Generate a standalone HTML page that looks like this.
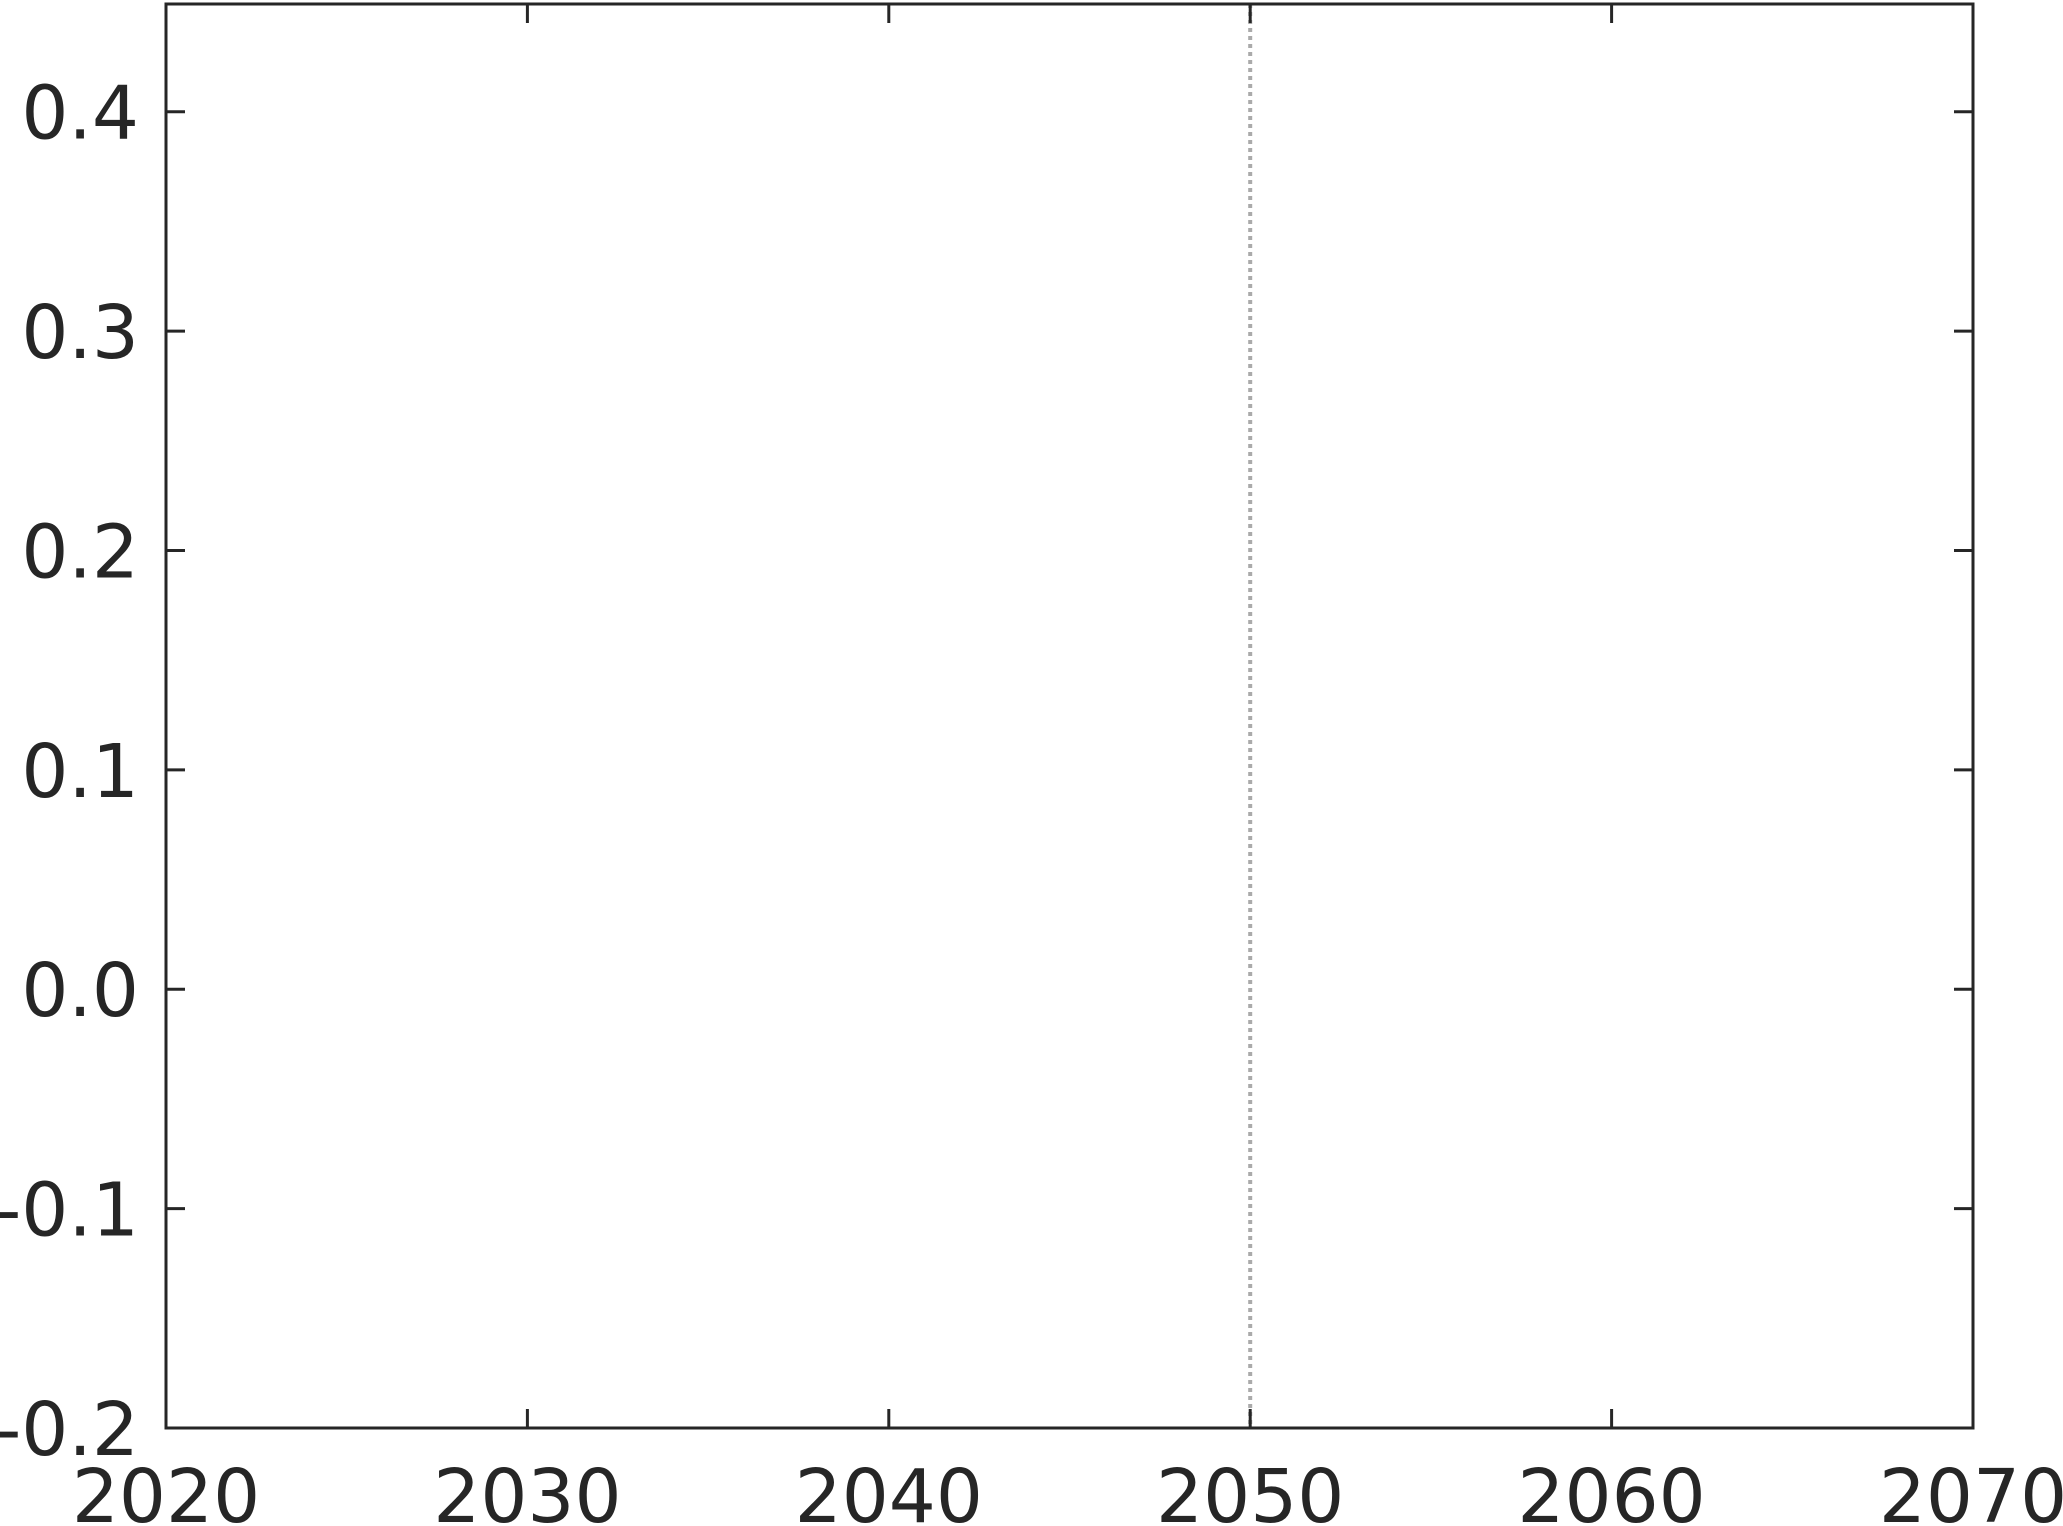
<!DOCTYPE html>
<html><head><meta charset="utf-8"><style>
html,body{margin:0;padding:0;background:#fff;}
svg{display:block;}
</style></head><body>
<svg id="chart" width="2063" height="1526" xmlns="http://www.w3.org/2000/svg"></svg>
<script>
const xTicks=[2020,2030,2040,2050,2060,2070];
const yTicks=[-0.2,-0.1,0.0,0.1,0.2,0.3,0.4];
const yTickLabels=["-0.2","-0.1","0.0","0.1","0.2","0.3","0.4"];
const markers=[2050];
const X0=166,X1=1973,Y0=1428,Y1=4;
const xMin=2020,xMax=2070,yMin=-0.2,yMax=0.4491;
function sx(v){return X0+(v-xMin)/(xMax-xMin)*(X1-X0);}
function sy(v){return Y0-(v-yMin)/(yMax-yMin)*(Y0-Y1);}
const svg=document.getElementById('chart');
const NS='http://www.w3.org/2000/svg';
function mk(t,a){const e=document.createElementNS(NS,t);for(const k in a)e.setAttribute(k,a[k]);svg.appendChild(e);return e;}
markers.forEach(m=>{
  const l=mk('line',{x1:sx(m),x2:sx(m),y1:Y1,y2:Y0,stroke:'#aaaaaa','stroke-width':4,'stroke-dasharray':'4 4'});
  
  
});
xTicks.forEach(v=>{
  const x=sx(v);
  const t1=mk('line',{x1:x,x2:x,y1:Y0,y2:Y0-19,stroke:'#262626','stroke-width':3});
  
  
  const t2=mk('line',{x1:x,x2:x,y1:Y1,y2:Y1+19,stroke:'#262626','stroke-width':3});
  
  
  const tx=mk('text',{x:x,y:1522,'text-anchor':'middle','font-family':'DejaVu Sans, Liberation Sans, sans-serif','font-size':74,fill:'#262626'});
  tx.textContent=String(v);
  
  
});
yTicks.forEach((v,i)=>{
  const y=sy(v);
  const t1=mk('line',{x1:X0,x2:X0+19,y1:y,y2:y,stroke:'#262626','stroke-width':3});
  
  
  const t2=mk('line',{x1:X1,x2:X1-19,y1:y,y2:y,stroke:'#262626','stroke-width':3});
  
  
  const tx=mk('text',{x:139,y:y+27,'text-anchor':'end','font-family':'DejaVu Sans, Liberation Sans, sans-serif','font-size':74,fill:'#262626'});
  tx.textContent=yTickLabels[i];
  
  
});
const frame=mk('rect',{x:X0,y:Y1,width:X1-X0,height:Y0-Y1,fill:'none',stroke:'#262626','stroke-width':3});


</script>
</body></html>
